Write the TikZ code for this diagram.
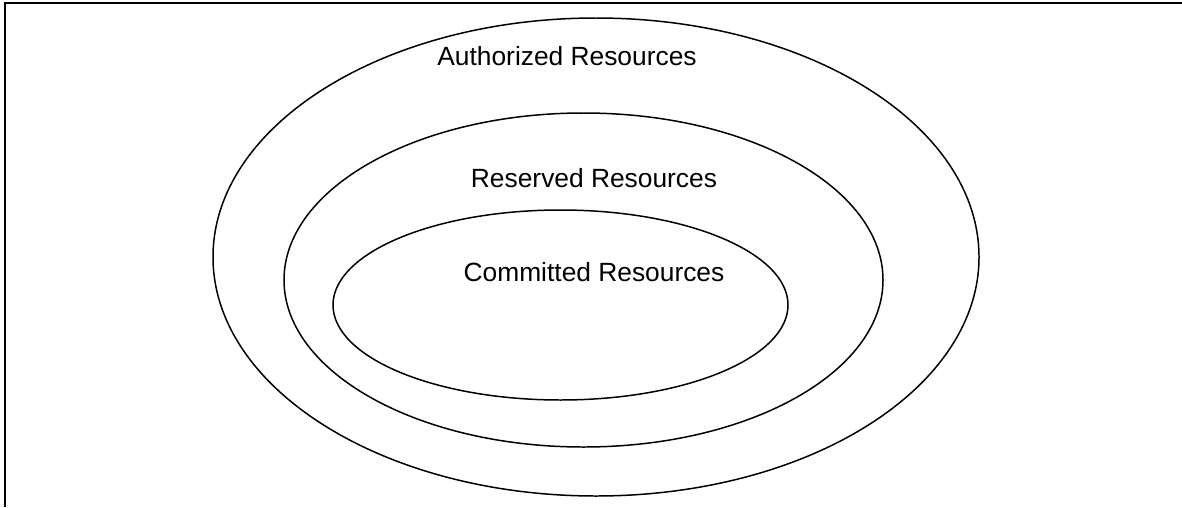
\documentclass[tikz,border=0pt]{standalone}
\usepackage{fontspec}
\setmainfont{Liberation Sans}
\usetikzlibrary{positioning}

\tikzset{
  ring/.style={draw=black,line width=0.85pt},
  ringlabel/.style={font=\fontsize{15}{18}\selectfont,inner sep=0pt},
  frameline/.style={draw=black,line width=1.2pt}
}

\begin{document}
\begin{tikzpicture}[x=0.02cm,y=-0.02cm]
  \useasboundingbox (0,0) rectangle (1182,507);
  % frame (top and left only)
  \draw[frameline] (5,507) -- (5,3) -- (1182,3);
  % nested sets
  \draw[ring] (596,257) ellipse [x radius=383,y radius=239];
  \draw[ring] (583.5,280) ellipse [x radius=299.5,y radius=167];
  \draw[ring] (560.5,305) ellipse [x radius=227.5,y radius=95];
  % labels
  \node[ringlabel] (authorized) at (567,56) {Authorized Resources};
  \node[ringlabel] (reserved) at (594,178) {Reserved Resources};
  \node[ringlabel] (committed) at (594,272) {Committed Resources};
\end{tikzpicture}
\end{document}
